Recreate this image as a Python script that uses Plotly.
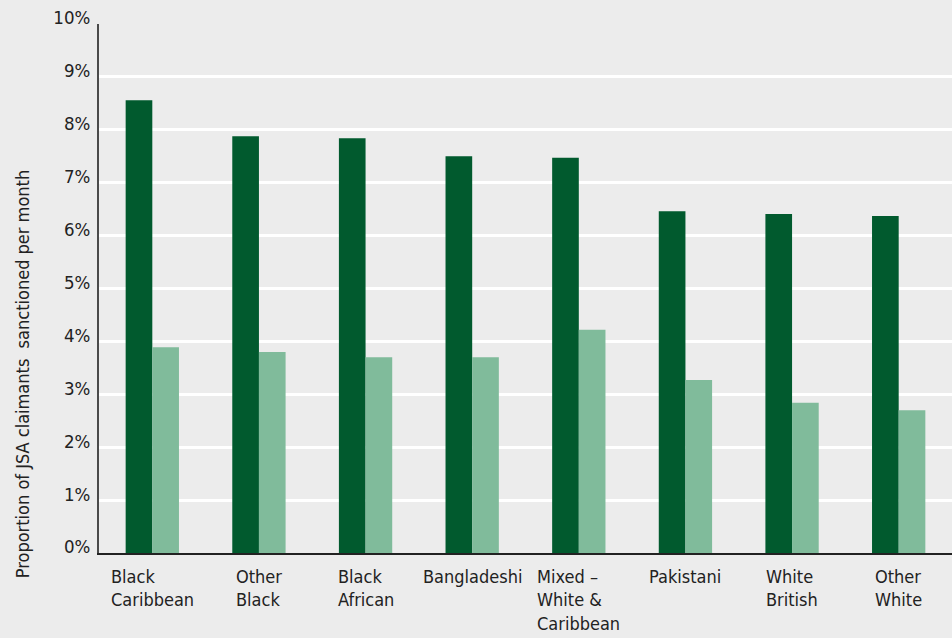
import plotly.graph_objects as go

# Ethnic groups along the x axis (line breaks are drawn as written)
categories = [
    "Black<br>Caribbean",
    "Other<br>Black",
    "Black<br>African",
    "Bangladeshi",
    "Mixed –<br>White &<br>Caribbean",
    "Pakistani",
    "White<br>British",
    "Other<br>White",
]

# Monthly sanction rates, per cent of JSA claimants
rate_dark = [8.56, 7.88, 7.84, 7.50, 7.47, 6.46, 6.41, 6.37]
rate_light = [3.89, 3.80, 3.70, 3.70, 4.22, 3.27, 2.84, 2.70]

y_ticks = [0, 1, 2, 3, 4, 5, 6, 7, 8, 9, 10]
y_tick_labels = [f"{v}%" for v in y_ticks]

FONT = "DejaVu Sans Condensed, Liberation Sans Narrow, sans-serif"
BG = "#ececec"
DARK = "#015a2e"
LIGHT = "#80bb9b"
TEXT = "#222222"

x_pos = list(range(len(categories)))

fig = go.Figure()
fig.add_trace(go.Bar(x=x_pos, y=rate_dark, marker_color=DARK, marker_line_width=0))
fig.add_trace(go.Bar(x=x_pos, y=rate_light, marker_color=LIGHT, marker_line_width=0))

# Category labels: centred block, lines left-aligned
for i, label in enumerate(categories):
    fig.add_annotation(
        x=i, y=0, xref="x", yref="paper",
        text=label, showarrow=False,
        xanchor="center", yanchor="top", align="left",
        yshift=-11,
        font=dict(family=FONT, size=18, color=TEXT),
    )

fig.add_annotation(
    x=0, y=0.338, xref="paper", yref="paper",
    xshift=-77,
    text="Proportion of JSA claimants  sanctioned per month",
    textangle=-90, showarrow=False,
    xanchor="center", yanchor="middle",
    font=dict(family=FONT, size=18, color=TEXT),
)

fig.update_layout(
    width=952, height=638,
    margin=dict(l=99, r=0, t=24, b=85),
    paper_bgcolor=BG, plot_bgcolor=BG,
    barmode="group", bargap=0.5, bargroupgap=0,
    showlegend=False,
    font=dict(family=FONT, size=18, color=TEXT),
)
fig.update_xaxes(
    range=[-0.5, len(categories) - 0.5],
    showticklabels=False, showgrid=False, zeroline=False,
    showline=True, linecolor=TEXT, linewidth=2,
)
fig.update_yaxes(
    range=[0, 10], tickmode="array", tickvals=y_ticks, ticktext=y_tick_labels,
    showgrid=True, gridcolor="#ffffff", gridwidth=2.5,
    zeroline=False, showline=True, linecolor="#4a4a4a", linewidth=2,
    ticks="", ticklabelstandoff=3, ticklabelshift=-6,
    tickfont=dict(family=FONT, size=18.5, color=TEXT),
)

fig.write_html("out.html")
